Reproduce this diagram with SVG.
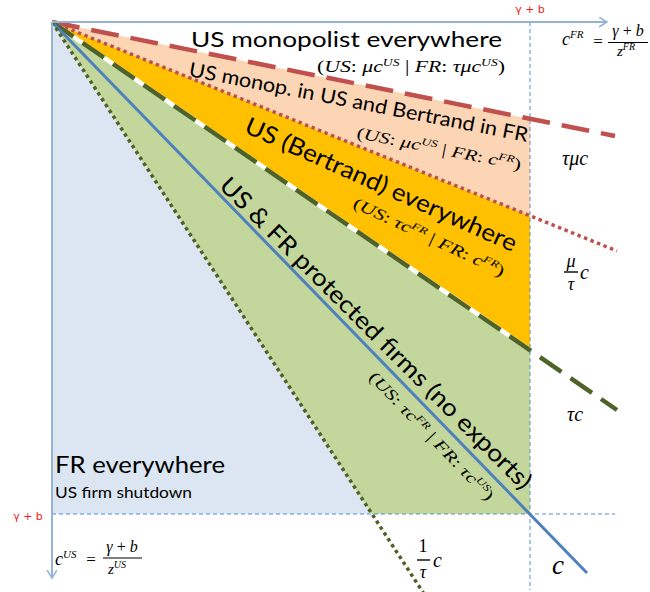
<svg xmlns="http://www.w3.org/2000/svg" width="650" height="592" viewBox="0 0 650 592">
<style>
.lbl{font-family:Lato,"Open Sans","Liberation Sans",sans-serif;fill:#000}
.m{font-family:"Liberation Serif","DejaVu Serif",serif;font-style:italic;fill:#000}
.up{font-style:normal}
.red{font-family:"DejaVu Sans","Liberation Sans",sans-serif;fill:#f02020;font-size:11px}
.guide{stroke:#558ed5;stroke-width:1;stroke-dasharray:4 3;fill:none}
.axis{stroke:#95b3d7;stroke-width:2;fill:none}
</style>
<defs>
<marker id="arr" markerWidth="10" markerHeight="12" refX="8" refY="5" orient="auto" markerUnits="userSpaceOnUse">
<path d="M0,0 L8,5 L0,10" fill="none" stroke="#95b3d7" stroke-width="1.5"/>
</marker>
</defs>

<g id="regions">
<g id="fr-everywhere-area"><polygon points="52,22 372,514 52,514" fill="#dce6f2"/></g>
<g id="protected-area"><polygon points="52,22 530,350 530,514 372,514" fill="#c3d69b"/></g>
<g id="bertrand-area"><polygon points="52,22 530,216 530,350" fill="#ffc000"/></g>
<g id="monop-bertrand-area"><polygon points="52,22 530,119 530,216" fill="#fcd5b5"/></g>
</g>

<g id="guides">
<line class="guide" x1="530" y1="22" x2="530" y2="590"/>
<line class="guide" x1="52" y1="514" x2="615" y2="514"/>
</g>

<g id="connectors">
<line x1="52" y1="22" x2="615" y2="136" stroke="#c0504d" stroke-width="4.5" stroke-dasharray="28 12"/>
<line x1="52" y1="22" x2="617" y2="251" stroke="#c0504d" stroke-width="3.5" stroke-dasharray="3.5 3.5"/>
<line x1="52" y1="22" x2="530" y2="350" stroke="#ffffff" stroke-width="4.5"/>
<line x1="52" y1="22" x2="617" y2="410" stroke="#4f6228" stroke-width="4.5" stroke-dasharray="26 11"/>
<line x1="52" y1="22" x2="587" y2="573" stroke="#4f81bd" stroke-width="3"/>
<line x1="52" y1="22" x2="426" y2="597" stroke="#4f6228" stroke-width="3.5" stroke-dasharray="3.5 3.5"/>
</g>

<g id="axes">
<line class="axis" x1="52" y1="22" x2="607" y2="22" marker-end="url(#arr)"/>
<line class="axis" x1="52" y1="22" x2="52" y2="578" marker-end="url(#arr)"/>
</g>

<g id="axis-labels">
<text class="red" x="530" y="13" text-anchor="middle">γ + b</text>
<text class="red" x="28" y="520" text-anchor="middle">γ + b</text>
<g id="cfr">
<text class="m" x="562" y="45" font-size="18">c<tspan font-size="11" dy="-7">FR</tspan></text>
<text class="m up" x="598" y="47" font-size="17" text-anchor="middle">=</text>
<text class="m" x="628" y="36" font-size="16" text-anchor="middle">γ <tspan class="up">+</tspan> b</text>
<line x1="608" y1="42.5" x2="648" y2="42.5" stroke="#000" stroke-width="1.2"/>
<text class="m" x="617" y="56" font-size="15">z<tspan font-size="10" dy="-6">FR</tspan></text>
</g>
<g id="cus">
<text class="m" x="55" y="565" font-size="18">c<tspan font-size="11" dy="-7">US</tspan></text>
<text class="m up" x="91" y="565" font-size="17" text-anchor="middle">=</text>
<text class="m" x="122" y="552" font-size="16" text-anchor="middle">γ <tspan class="up">+</tspan> b</text>
<line x1="103" y1="558" x2="142" y2="558" stroke="#000" stroke-width="1.2"/>
<text class="m" x="108" y="574" font-size="15">z<tspan font-size="10" dy="-6">US</tspan></text>
</g>
</g>

<g id="line-labels">
<text class="m" x="562" y="165" font-size="20">τμc</text>
<g id="mu-over-tau">
<text class="m" x="571" y="267" font-size="18" text-anchor="middle">μ</text>
<line x1="564" y1="272" x2="578" y2="272" stroke="#000" stroke-width="1.4"/>
<text class="m" x="571" y="290" font-size="18" text-anchor="middle">τ</text>
<text class="m" x="580" y="279" font-size="20">c</text>
</g>
<text class="m" x="567" y="421" font-size="20">τc</text>
<g id="one-over-tau">
<text class="m up" x="423" y="552" font-size="18" text-anchor="middle">1</text>
<line x1="417" y1="560" x2="430" y2="560" stroke="#000" stroke-width="1.4"/>
<text class="m" x="423" y="578" font-size="18" text-anchor="middle">τ</text>
<text class="m" x="433" y="567" font-size="20">c</text>
</g>
<text class="m" x="552" y="574" font-size="27">c</text>
</g>

<g id="node-us-monopolist">
<text class="lbl" x="191" y="47" font-size="22" textLength="311" lengthAdjust="spacingAndGlyphs">US monopolist everywhere</text>
<text class="m" x="317" y="72" font-size="16" textLength="188" lengthAdjust="spacingAndGlyphs"><tspan class="up">(</tspan>US<tspan class="up">: </tspan>μc<tspan font-size="10" dy="-6">US</tspan><tspan dy="6" class="up"> | </tspan>FR<tspan class="up">: </tspan>τμc<tspan font-size="10" dy="-6">US</tspan><tspan dy="6" class="up">)</tspan></text>
</g>

<g id="node-monop-bertrand">
<text class="lbl" transform="translate(188,76) rotate(11)" font-size="20" textLength="345" lengthAdjust="spacingAndGlyphs">US monop. in US and Bertrand in FR</text>
<text class="m" transform="translate(356,138) rotate(11)" font-size="16" textLength="167" lengthAdjust="spacingAndGlyphs"><tspan class="up">(</tspan>US<tspan class="up">: </tspan>μc<tspan font-size="10" dy="-6">US</tspan><tspan dy="6" class="up"> | </tspan>FR<tspan class="up">: </tspan>c<tspan font-size="10" dy="-6">FR</tspan><tspan dy="6" class="up">)</tspan></text>
</g>

<g id="node-bertrand">
<text class="lbl" transform="translate(243,132) rotate(24)" font-size="24" textLength="295" lengthAdjust="spacingAndGlyphs">US (Bertrand) everywhere</text>
<text class="m" transform="translate(352,207) rotate(25)" font-size="16" textLength="165" lengthAdjust="spacingAndGlyphs"><tspan class="up">(</tspan>US<tspan class="up">: </tspan>τc<tspan font-size="10" dy="-6">FR</tspan><tspan dy="6" class="up"> | </tspan>FR<tspan class="up">: </tspan>c<tspan font-size="10" dy="-6">FR</tspan><tspan dy="6" class="up">)</tspan></text>
</g>

<g id="node-protected">
<text class="lbl" transform="translate(218,187) rotate(45)" font-size="24" textLength="430" lengthAdjust="spacingAndGlyphs">US &amp; FR protected firms (no exports)</text>
<text class="m" transform="translate(368,378) rotate(46)" font-size="16" textLength="172" lengthAdjust="spacingAndGlyphs"><tspan class="up">(</tspan>US<tspan class="up">: </tspan>τc<tspan font-size="10" dy="-6">FR</tspan><tspan dy="6" class="up"> | </tspan>FR<tspan class="up">: </tspan>τc<tspan font-size="10" dy="-6">US</tspan><tspan dy="6" class="up">)</tspan></text>
</g>

<g id="node-fr-everywhere">
<text class="lbl" x="55" y="473" font-size="24" textLength="170" lengthAdjust="spacingAndGlyphs">FR everywhere</text>
<text class="lbl" x="55" y="498" font-size="16" textLength="137" lengthAdjust="spacingAndGlyphs">US firm shutdown</text>
</g>
</svg>
